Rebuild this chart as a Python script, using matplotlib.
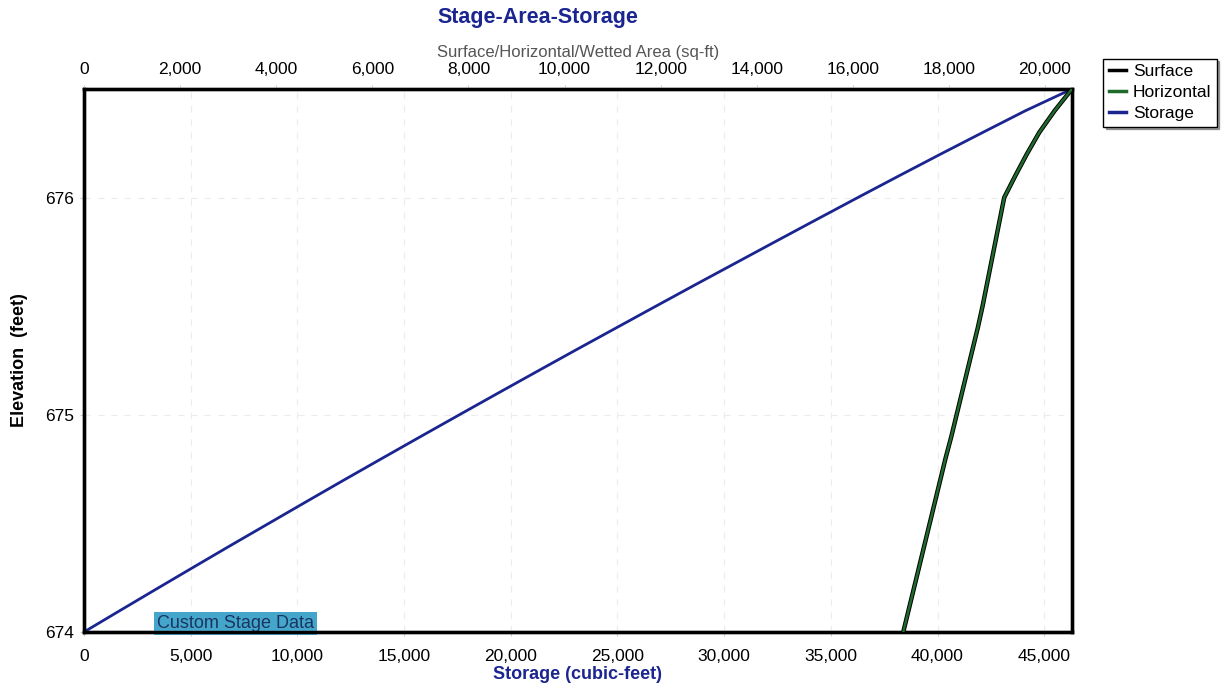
import matplotlib
matplotlib.use("Agg")
import matplotlib.pyplot as plt
from matplotlib.ticker import FuncFormatter

plt.rcParams["font.family"] = ["Liberation Sans", "DejaVu Sans"]

# Stage-area-storage table
elevation = [674.0, 674.1, 674.2, 674.3, 674.4, 674.5, 674.6, 674.7, 674.8, 674.9,
             675.0, 675.1, 675.2, 675.3, 675.4, 675.5, 675.6, 675.7, 675.8, 675.9,
             676.0, 676.1, 676.2, 676.3, 676.4, 676.5]
horizontal_area = [17050, 17160, 17270, 17380, 17490, 17600, 17710, 17820, 17930, 18050,
                   18160, 18270, 18380, 18490, 18600, 18700, 18790, 18880, 18970, 19060,
                   19150, 19380, 19620, 19880, 20200, 20560]
surface_area = list(horizontal_area)
storage = [0, 1710, 3430, 5160, 6900, 8660, 10420, 12190, 13980, 15780,
           17590, 19410, 21240, 23080, 24940, 26800, 28670, 30560, 32450, 34350,
           36260, 38190, 40140, 42120, 44120, 46300]

storage_ticks = [0, 5000, 10000, 15000, 20000, 25000, 30000, 35000, 40000, 45000]
area_ticks = [0, 2000, 4000, 6000, 8000, 10000, 12000, 14000, 16000, 18000, 20000]
elev_ticks = [674, 675, 676]

NAVY = "#1b2590"
GREEN = "#1f6b2c"

fig = plt.figure(figsize=(12.3, 6.9), dpi=100)
ax = fig.add_axes([0.0683, 0.0841, 0.8032, 0.7869])
ax2 = ax.twiny()

comma = FuncFormatter(lambda v, p: f"{int(v):,}")

# Storage on the bottom axis
l_sto, = ax.plot(storage, elevation, color=NAVY, lw=2.0, zorder=3)
ax.set_xlim(0, max(storage))
ax.set_ylim(674, 676.5)
ax.set_xticks(storage_ticks)
ax.set_yticks(elev_ticks)
ax.xaxis.set_major_formatter(comma)
ax.tick_params(axis="x", labelsize=12.5, length=3, color="#cccccc", pad=9)
ax.tick_params(axis="y", labelsize=12.5, length=3, color="#cccccc", pad=4)

# Areas on the top axis
l_surf, = ax2.plot(surface_area, elevation, color="black", lw=3.2, zorder=2)
l_hor, = ax2.plot(horizontal_area, elevation, color=GREEN, lw=1.8, zorder=3)
ax2.set_xlim(0, max(horizontal_area))
ax2.set_xticks(area_ticks)
ax2.xaxis.set_major_formatter(comma)
ax2.tick_params(axis="x", labelsize=12.5, length=3, color="#cccccc", pad=6)

# faint grid
for xv in storage_ticks[1:]:
    ax.axvline(xv, color="#ececec", lw=0.8, ls=(0, (6, 6)), zorder=0)
for yv in elev_ticks[1:]:
    ax.axhline(yv, color="#ececec", lw=0.8, ls=(0, (6, 6)), zorder=0)

for a in (ax, ax2):
    for s in a.spines.values():
        s.set_linewidth(2.4)
        s.set_color("black")

fig.text(0.4375, 0.975, "Stage-Area-Storage", ha="center", va="center",
         fontsize=15.5, fontweight="bold", color=NAVY)
ax2.set_xlabel("Surface/Horizontal/Wetted Area (sq-ft)", fontsize=12,
               color="#555555", labelpad=3)
ax.set_xlabel("Storage (cubic-feet)", fontsize=13, fontweight="bold",
              color=NAVY, labelpad=2)
fig.text(0.016, 0.478, "Elevation  (feet)", rotation=90, ha="center",
         va="center", fontsize=13, fontweight="bold", color="black")

ax.text(0.074, 0.0, "Custom Stage Data", transform=ax.transAxes, ha="left",
        va="bottom", fontsize=13, color="#1a3560", zorder=5,
        bbox=dict(boxstyle="square,pad=0.15", fc="#45a6cc", ec="none"))

leg = fig.legend([l_surf, l_hor, l_sto], ["Surface", "Horizontal", "Storage"],
                 loc="upper left", bbox_to_anchor=(0.897, 0.915),
                 fontsize=12.5, frameon=True, fancybox=False, shadow=True,
                 handlelength=1.0, handletextpad=0.4, borderpad=0.3,
                 labelspacing=0.35, borderaxespad=0)
leg.get_frame().set_edgecolor("black")
leg.get_frame().set_linewidth(1.0)
for h, c in zip(leg.get_lines(), ["black", GREEN, NAVY]):
    h.set_linewidth(2.5)
    h.set_color(c)

fig.savefig("out.png", dpi=100)
